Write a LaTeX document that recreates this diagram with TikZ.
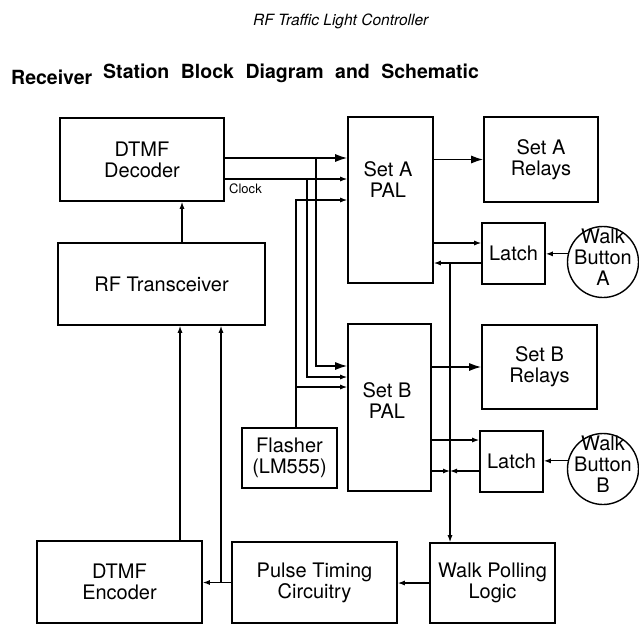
\documentclass[tikz,border=0pt]{standalone}
\usepackage{fontspec}
\setmainfont{TeX Gyre Heros}
\usetikzlibrary{arrows.meta}
\usetikzlibrary{positioning}

\begin{document}
\begin{tikzpicture}[x=1pt,y=-1pt,
  blk/.style={draw,line width=1.6pt,inner sep=0pt,align=center,font=\fontsize{20}{21}\selectfont},
  txt/.style={inner sep=0pt,align=center,font=\fontsize{20}{21}\selectfont},
  btn/.style={draw,circle,line width=1.4pt,inner sep=0pt,minimum size=71pt},
  sig/.style={line width=1.2pt,-{Latex[length=7pt,width=5pt]}},
  bus/.style={line width=1.5pt,-{Latex[length=12pt,width=8pt]}}]
\useasboundingbox (0,0) rectangle (639,624);

% headings
\node[inner sep=0pt,anchor=base west,font=\fontsize{15.5}{18}\selectfont\itshape] (ttl) at (253,25) {RF Traffic Light Controller};
\node[inner sep=0pt,anchor=base west,font=\fontsize{19.5}{22}\selectfont\bfseries] (hdA) at (11,84) {Receiver};
\node[inner sep=0pt,anchor=base west,font=\fontsize{19.5}{22}\selectfont\bfseries] (hdB) at (103,78) {\spaceskip=11.5pt Station Block Diagram and Schematic};

% blocks
\node[blk,minimum width=164,minimum height=83] (dec) at (142,159.5) {DTMF\\Decoder};
\node[blk,minimum width=207,minimum height=82] (rf) at (161.5,284) {RF Transceiver};
\node[blk,minimum width=85,minimum height=166] (palA) at (390.5,200) {};
\node[txt] (palAtxt) at (388,180) {Set A\\PAL};
\node[blk,minimum width=114,minimum height=85] (relA) at (541,159.5) {Set A\\Relays};
\node[blk,minimum width=63,minimum height=61] (latA) at (513.5,253.5) {Latch};
\node[btn] (btnA) at (603,262) {};
\node[txt,text width=80] (btnAtxt) at (603,257) {Walk\\Button\\A};
\node[blk,minimum width=83,minimum height=167] (palB) at (389.5,407.5) {};
\node[txt] (palBtxt) at (387,401) {Set B\\PAL};
\node[blk,minimum width=115,minimum height=84] (relB) at (539.5,367) {Set B\\Relays};
\node[blk,minimum width=63,minimum height=61] (latB) at (511.5,461.5) {Latch};
\node[btn] (btnB) at (603,469) {};
\node[txt,text width=80] (btnBtxt) at (603,464) {Walk\\Button\\B};
\node[blk,minimum width=95,minimum height=60] (flash) at (289.5,458) {Flasher\\(LM555)};
\node[blk,minimum width=165,minimum height=82] (enc) at (119.5,582) {DTMF\\Encoder};
\node[blk,minimum width=165,minimum height=81] (pulse) at (314.5,582.5) {Pulse Timing\\Circuitry};
\node[blk,minimum width=125,minimum height=80] (poll) at (492.5,583) {Walk Polling\\Logic};

% rows and columns of the wires
\coordinate (yd) at (0,158);
\coordinate (yc) at (0,179);
\coordinate (yf) at (0,200);
\coordinate (ydB) at (0,366);
\coordinate (ycB) at (0,377);
\coordinate (yfB) at (0,387);
\coordinate (xd) at (316,0);
\coordinate (xc) at (307,0);
\coordinate (xf) at (296,0);
\coordinate (ylA) at (0,243);
\coordinate (yrA) at (0,263);
\coordinate (ylB) at (0,440);
\coordinate (yrB) at (0,471);
\coordinate (xw) at (450,0);
\coordinate (xe) at (180,0);
\coordinate (xp) at (221,0);
\coordinate (xr) at (182,0);

% decoder and flasher to the PALs
\draw[bus] (dec.east |- yd) -- (palA.west |- yd);
\draw[bus] (xd |- yd) |- (palB.west |- ydB);
\draw[sig] (dec.east |- yc) -- (palA.west |- yc);
\draw[sig] (xc |- yc) |- (palB.west |- ycB);
\draw[sig] (flash.north -| xf) |- (palA.west |- yf);
\draw[sig] (xf |- yfB) -- (palB.west |- yfB);
\node[inner sep=0pt,anchor=north west,font=\fontsize{13}{15}\selectfont] (clk) at (229,184) {Clock};

% PALs to relays and latches
\draw[bus] (palA.east |- relA.west) -- (relA.west);
\draw[bus] (palB.east |- relB.west) -- (relB.west);
\draw[sig] (palA.east |- ylA) -- (latA.west |- ylA);
\draw[sig] (latA.west |- yrA) -- (palA.east |- yrA);
\draw[sig] (btnA.167) -- (btnA.167 -| latA.east);
\draw[sig] (palB.east |- ylB) -- (latB.west |- ylB);
\draw[sig] (palB.east |- yrB) -- (xw |- yrB);
\draw[sig] (latB.west |- yrB) -- (xw |- yrB);
\draw[sig] (btnB.167) -- (btnB.167 -| latB.east);
\draw[sig] (xw |- yrA) -- (poll.north -| xw);

% bottom row and radio
\draw[sig] (poll.west) -- (poll.west -| pulse.east);
\draw[sig] (pulse.west) -- (pulse.west -| enc.east);
\draw[sig] (pulse.west -| xp) -- (rf.south -| xp);
\draw[sig] (enc.north -| xe) -- (rf.south -| xe);
\draw[sig] (rf.north -| xr) -- (dec.south -| xr);

\end{tikzpicture}
\end{document}
